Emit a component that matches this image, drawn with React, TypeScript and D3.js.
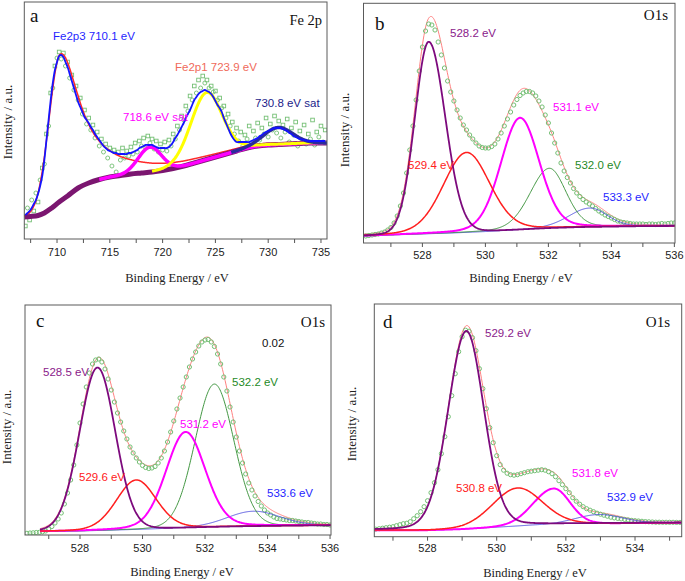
import React from 'react';
import * as d3 from 'd3';

const SANS = "'Liberation Sans', Arial, Helvetica, sans-serif";
const SERIF = "'Liberation Serif', 'Times New Roman', Times, serif";

// ================= DATA =================
// ---- Panel a: Fe 2p (grid 707.0 .. 735.4, step 0.2 eV) ----
const aStart = 707.0;
const aStep = 0.2;
const aMeasured = [
  12, 30, 18, 38, 27, 45, 36, 58, 70, 74,
  104, 112, 145, 150, 172, 180, 186, 179, 185, 172,
  176, 160, 163, 148, 152, 138, 140, 124, 128, 114,
  120, 108, 113, 100, 106, 92, 99, 86, 94, 80,
  90, 72, 88, 66, 86, 78, 90, 80, 87, 82,
  91, 84, 95, 86, 97, 92, 100, 90, 102, 95,
  99, 89, 97, 86, 94, 88, 96, 87, 98, 92,
  104, 99, 112, 108, 122, 118, 132, 127, 142, 138,
  152, 145, 158, 150, 162, 155, 158, 150, 152, 146,
  147, 138, 140, 130, 132, 120, 124, 112, 116, 104,
  110, 97, 106, 92, 103, 99, 112, 95, 107, 100,
  115, 98, 110, 104, 120, 101, 114, 108, 122, 105,
  117, 100, 113, 106, 119, 96, 110, 103, 116, 92,
  107, 98, 113, 94, 104, 99, 118, 93, 106, 101,
  112, 96, 108,
];
const aFitEnvelope = [
  23, 25, 27, 30, 34, 38, 44, 52, 62, 78,
  98, 118, 138, 155, 168, 176, 182, 183, 181, 176,
  171, 164, 157, 150, 143, 136, 131, 126, 121, 118,
  115, 111, 108, 104, 101, 98, 95, 92, 90, 88,
  87, 86, 85, 85, 84, 84, 84, 84, 84, 85,
  85, 86, 87, 88, 90, 91, 92, 93, 93, 93,
  93, 92, 91, 90, 90, 90, 90, 90, 91, 93,
  96, 100, 103, 107, 111, 115, 120, 124, 128, 133,
  138, 141, 144, 146, 147, 148, 147, 146, 144, 141,
  137, 133, 130, 126, 120, 115, 110, 105, 101, 98,
  96, 96, 96, 96, 96, 96, 96, 97, 98, 99,
  100, 102, 103, 105, 106, 107, 108, 109, 110, 110,
  110, 110, 109, 108, 107, 105, 104, 102, 101, 100,
  99, 98.5, 98, 97.5, 97, 97, 97, 97, 97, 97,
  97, 97, 97,
];
const aBackground: [number, number][] = [
  [706.9, 21], [707.5, 21.5], [708.2, 22.5], [708.8, 25], [709.5, 30], [710.2, 36],
  [711, 42], [712, 50], [713, 55], [714, 58.5], [715, 61], [716, 62.5], [717, 64],
  [718, 65], [719, 66], [720, 67.5], [721, 69.5], [722, 72], [723, 75], [724, 78],
  [725, 81], [726, 84], [727, 87], [728, 90], [729, 92], [730, 93], [731, 93.5],
  [732, 94], [733, 94.5], [734, 95], [735.6, 95],
];
const aPeakCenters = [710.3, 718.8, 724.15, 730.95];
const aPeakHeights = [147, 25, 67, 17];
const aPeakHwhmLeft = [1.27, 1.3, 1.75, 1.6];
const aPeakHwhmRight = [2.2, 1.3, 1.75, 1.6];
const aPeakLorentzLeft = [0, 0, 0.1, 0];
const aPeakLorentzRight = [1, 0, 0.1, 0];
const aPeakStarts = [706.9, 714, 719, 726.5];
const aLabels = ['Fe2p3 710.1 eV', '718.6 eV sat', 'Fe2p1 723.9 eV', '730.8 eV sat'];
const aTicks = [707.5, 710, 712.5, 715, 717.5, 720, 722.5, 725, 727.5, 730, 732.5, 735];
const aTickLabels = [710, 715, 720, 725, 730, 735];

// ---- Panel b: O1s ----
const bStart = 526.2;
const bMeasured = [
  7, 7.5, 8, 8.5, 9, 10, 11, 13, 15.5, 20,
  27, 37, 50, 70, 93, 117, 143, 172, 196, 212,
  219, 218, 213, 201, 188, 175, 162, 151, 142, 133,
  125, 118, 113, 108, 104, 100, 97, 95.5, 95, 95,
  96.5, 99, 104, 110, 117, 124, 131, 138, 143.5, 147.5,
  150, 151.5, 151.5, 150, 147, 142, 136, 128, 120, 110,
  100, 90, 80, 72, 65.5, 60, 54.5, 50, 46.5, 43.5,
  41, 39, 37, 34.5, 32, 30, 28, 26.5, 25, 23.5,
  22, 21, 20.5, 20, 19.5, 19, 19, 19, 19, 18.5,
  19, 19, 18.5, 19, 19.5, 19, 19.5, 20, 20,
];
const bBackground: [number, number][] = [
  [526.13, 7], [527, 8], [528, 9], [529, 10], [530, 11.3], [531, 13], [532, 14.7],
  [533, 15.8], [534, 16.3], [535, 16.8], [536.02, 17],
];
const bCenters = [528.2, 529.4, 531.1, 532.03, 533.32];
const bHeights = [192, 80, 112, 60, 19];
const bHwhmL = [0.52, 0.87, 0.72, 0.72, 0.8];
const bHwhmR = [0.62, 0.87, 0.72, 0.62, 0.65];
const bLorentz = [0.05, 0.15, 0.15, 0.15, 0.15];
const bLabels = ['528.2 eV', '529.4 eV', '531.1 eV', '532.0 eV', '533.3 eV'];

// ---- Panel c: O1s ----
const cStart = 526.3;
const cMeasured = [
  1.7, 2, 2.2, 2.5, 2.7, 3.2, 4, 6, 8.5, 12,
  16, 22, 31, 42, 55, 70, 90, 112, 131, 148,
  162, 171, 175, 176, 173, 166, 156, 145, 133, 122,
  113, 104, 96, 88, 82, 77, 73, 69.5, 67.5, 66.5,
  67, 68.5, 72, 77, 84, 93, 103, 114, 126, 137,
  148, 158, 168, 176, 183, 189, 193, 195, 195.5, 193,
  188.5, 181, 171, 158, 144, 128, 113, 98, 84, 72,
  61, 52, 45, 39, 33.5, 29, 25, 22, 20, 18,
  16.5, 16, 15.5, 15, 14.5, 14.5, 14, 13.5, 13, 12.5,
  12.5, 12, 11.5, 11, 11, 10.5, 10.5, 10,
];
const cBackground: [number, number][] = [
  [526.72, 3.5], [528, 4], [529, 4.8], [530, 5.7], [531, 6.7], [532, 7.7],
  [533, 8.5], [534, 9], [535, 9.4], [536.03, 9.7],
];
const cCenters = [528.56, 529.8, 531.38, 532.3, 533.55];
const cHeights = [163, 49.5, 96, 143, 15];
const cHwhmL = [0.68, 0.75, 0.74, 0.73, 1.0];
const cHwhmR = [0.67, 0.75, 0.74, 0.73, 1.0];
const cLorentz = [0.05, 0.15, 0.15, 0.05, 0.1];
const cLabels = ['528.5 eV', '529.6 eV', '531.2 eV', '532.2 eV', '533.6 eV'];
const cNote = '0.02';

// ---- Panel d: O1s ----
const dStart = 526.5;
const dMeasured = [
  7.5, 8, 8.5, 9, 9.5, 10, 11, 12, 13, 13.5,
  15, 18, 21, 25, 30, 36, 44, 54, 67, 83,
  100, 120, 141, 163, 185, 200, 206.5, 205.5, 199, 186,
  168, 148, 128, 109, 94, 81, 72, 66.5, 63.5, 62,
  61.5, 62, 63, 64, 65, 65.5, 66, 66.5, 67, 66.5,
  65, 63, 60, 56, 52, 48, 44, 39, 35.5, 32.5,
  30, 28, 26.5, 25, 23.5, 22.5, 21.5, 20.5, 19.5, 18.8,
  18.3, 17.8, 17.3, 16.8, 16.3, 16, 15.7, 15.4, 15.1, 14.9,
  14.7, 14.5, 14.5, 14.4, 14.4, 14.4, 14.4, 14.3, 14.3,
];
const dBackground: [number, number][] = [
  [526.46, 6.5], [528, 6.5], [529, 7.5], [530, 9.5], [531, 11.5], [532, 12.5],
  [533, 13.2], [534, 13.6], [535.35, 14],
];
const dCenters = [529.12, 530.6, 531.65, 532.95];
const dHeights = [198, 38, 36, 9];
const dHwhmL = [0.62, 0.85, 0.7, 0.8];
const dHwhmR = [0.6, 0.85, 0.55, 0.8];
const dLorentz = [0.12, 0.1, 0.05, 0.05];
const dLabels = ['529.2 eV', '530.8 eV', '531.8 eV', '532.9 eV'];

const o1sTicks = [527, 528, 529, 530, 531, 532, 533, 534, 535, 536];
const o1sTickLabels = [528, 530, 532, 534, 536];

// ================= STYLES / LAYOUT =================
// style slots: 0 purple, 1 red, 2 magenta, 3 green, 4 blue
const O1S_COLORS = ['#7d0a7d', '#ff1f1f', '#ff00ff', '#2e8b2e', '#4b4bdc'];
const O1S_WIDTHS = [1.8, 1.5, 2, 0.9, 0.9];
const O1S_LABEL_COLORS = ['#8a1a8a', '#ff2020', '#ff00ff', '#1f8a1f', '#1f1fff'];
const A_COLORS = ['#ff2a2a', '#ff00ff', '#ffff00', '#2b2b9c'];
const A_WIDTHS = [1.5, 3.5, 3, 3.5];
const A_LABEL_COLORS = ['#1f1fff', '#ff00ff', '#f06a5a', '#1c1c8a'];
const GREEN = '#74bf74';

type Frame = { l: number; r: number; t: number; b: number };

function pv(x: number, c: number, h: number, wl: number, wr: number, etaL: number, etaR: number) {
  const left = x < c;
  const w = left ? wl : wr;
  const eta = left ? etaL : etaR;
  const t = (x - c) / w;
  return h * ((1 - eta) * Math.exp(-Math.LN2 * t * t) + eta / (1 + t * t));
}

function bgScale(bg: [number, number][]) {
  return d3.scaleLinear().domain(bg.map(d => d[0])).range(bg.map(d => d[1])).clamp(true);
}

function Axis({ x, f, ticks, labels, labelY, titleX, titleY, ylabX, ylabY }: any) {
  return (
    <g>
      <rect x={f.l} y={f.t} width={f.r - f.l} height={f.b - f.t} fill="none" stroke="#5a5a5a" strokeWidth={1} />
      {ticks.map((t: number) => (
        <line key={'t' + t} x1={x(t)} x2={x(t)} y1={f.b} y2={f.b + 4} stroke="#555" strokeWidth={1} />
      ))}
      {labels.map((t: number) => (
        <text key={'l' + t} x={x(t)} y={labelY} textAnchor="middle" fontFamily={SANS} fontSize={11} fill="#222">{t}</text>
      ))}
      <text x={titleX} y={titleY} textAnchor="middle" fontFamily={SERIF} fontSize={12.5} fill="#222">Binding Energy / eV</text>
      <text transform={`translate(${ylabX},${ylabY}) rotate(-90)`} textAnchor="middle" fontFamily={SERIF} fontSize={13} fill="#222">Intensity / a.u.</text>
    </g>
  );
}

type O1sProps = {
  id: string; f: Frame; xDom: [number, number]; yBase: number;
  start: number; measured: number[]; bg: [number, number][];
  centers: number[]; heights: number[]; hl: number[]; hr: number[]; eta: number[];
  slots: number[];
  labels: string[]; labelPos: [number, number][];
  fitFrom: number; letter: string; letterPos: [number, number]; o1sPos: [number, number];
  labelY: number; titleX: number; titleY: number; ylabX: number; ylabY: number;
  tickLabels: number[]; ticks: number[];
};

function O1sPanel(p: O1sProps) {
  const x = d3.scaleLinear().domain(p.xDom).range([p.f.l, p.f.r]);
  const y = d3.scaleLinear().domain([0, 100]).range([p.yBase, p.yBase - 100]);
  const bgs = bgScale(p.bg);
  const grid = d3.range(Math.max(p.fitFrom, p.xDom[0]), p.xDom[1] + 0.001, 0.02);
  const one = (i: number, e: number) => pv(e, p.centers[i], p.heights[i], p.hl[i], p.hr[i], p.eta[i], p.eta[i]);
  const comp = (i: number) => (e: number) => bgs(e) + one(i, e);
  const env = (e: number) => bgs(e) + p.centers.reduce((s, _, i) => s + one(i, e), 0);
  const path = (fn: (e: number) => number) =>
    d3.line<number>().x(e => x(e)).y(e => y(fn(e)))(grid) || '';
  const pts = p.measured.map((v, i) => [p.start + i * 0.1, v] as [number, number]);
  const ticks = p.ticks.filter(t => t >= p.xDom[0] && t <= p.xDom[1]);
  const tl = p.tickLabels.filter(t => t >= p.xDom[0] && t <= p.xDom[1]);
  return (
    <g>
      <defs>
        <clipPath id={'clip' + p.id}>
          <rect x={p.f.l} y={p.f.t} width={p.f.r - p.f.l} height={p.f.b - p.f.t} />
        </clipPath>
      </defs>
      <g clipPath={`url(#clip${p.id})`}>
        <path d={path(env)} fill="none" stroke="#ff8080" strokeWidth={1} />
        {pts.map((d, i) => (
          <circle key={i} cx={x(d[0])} cy={y(d[1])} r={2.1} fill="none" stroke={GREEN} strokeWidth={1} />
        ))}
        {p.centers.map((_, i) => i).reverse().map(i => (
          <path key={'c' + i} d={path(comp(i))} fill="none" stroke={O1S_COLORS[p.slots[i]]} strokeWidth={O1S_WIDTHS[p.slots[i]]} />
        ))}
      </g>
      <Axis x={x} f={p.f} ticks={ticks} labels={tl} labelY={p.labelY} titleX={p.titleX} titleY={p.titleY} ylabX={p.ylabX} ylabY={p.ylabY} />
      {p.labels.map((s, i) => (
        <text key={s} x={p.labelPos[i][0]} y={p.labelPos[i][1]} fontFamily={SANS} fontSize={11.5} fill={O1S_LABEL_COLORS[p.slots[i]]}>{s}</text>
      ))}
      <text x={p.letterPos[0]} y={p.letterPos[1]} fontFamily={SERIF} fontSize={19} fill="#111">{p.letter}</text>
      <text x={p.o1sPos[0]} y={p.o1sPos[1]} textAnchor="end" fontFamily={SERIF} fontSize={15} fill="#111">O1s</text>
    </g>
  );
}

function FePanel() {
  const f: Frame = { l: 24.3, r: 327, t: 2, b: 239 };
  const x = d3.scaleLinear().domain([706.9, 735.57]).range([f.l, f.r]);
  const y = d3.scaleLinear().domain([0, 100]).range([238, 138]);
  const bgs = bgScale(aBackground);
  const comp = (i: number) => (e: number) =>
    bgs(e) + pv(e, aPeakCenters[i], aPeakHeights[i], aPeakHwhmLeft[i], aPeakHwhmRight[i], aPeakLorentzLeft[i], aPeakLorentzRight[i]);
  const path = (fn: (e: number) => number, from: number) =>
    d3.line<number>().x(e => x(e)).y(e => y(fn(e))).curve(d3.curveMonotoneX)(d3.range(from, 735.6, 0.05)) || '';
  const bgPath = d3.line<[number, number]>().x(d => x(d[0])).y(d => y(d[1])).curve(d3.curveMonotoneX)(aBackground) || '';
  const fitPts = aFitEnvelope.map((v, i) => [aStart + i * aStep, v] as [number, number]);
  const fitPath = d3.line<[number, number]>().x(d => x(d[0])).y(d => y(d[1])).curve(d3.curveCatmullRom)(fitPts) || '';
  const meas = aMeasured.map((v, i) => [aStart + i * aStep, v] as [number, number]);
  const labelPos: [number, number][] = [[53, 40], [123, 121], [175, 71], [255, 107]];
  return (
    <g>
      <defs>
        <clipPath id="clipA">
          <rect x={f.l} y={f.t} width={f.r - f.l} height={f.b - f.t} />
        </clipPath>
      </defs>
      <g clipPath="url(#clipA)">
        {meas.map((d, i) =>
          i % 2 === 0 ? (
            <rect key={i} x={x(d[0]) - 1.8} y={y(d[1]) - 1.8} width={3.6} height={3.6} fill="none" stroke={GREEN} strokeWidth={0.9} />
          ) : (
            <circle key={i} cx={x(d[0])} cy={y(d[1])} r={2} fill="none" stroke={GREEN} strokeWidth={0.9} />
          )
        )}
        <path d={path(comp(0), aPeakStarts[0])} fill="none" stroke={A_COLORS[0]} strokeWidth={A_WIDTHS[0]} />
        <path d={bgPath} fill="none" stroke="#7b1670" strokeWidth={5} />
        {[1, 2, 3].map(i => (
          <path key={i} d={path(comp(i), aPeakStarts[i])} fill="none" stroke={A_COLORS[i]} strokeWidth={A_WIDTHS[i]} />
        ))}
        <path d={fitPath} fill="none" stroke="#1414ff" strokeWidth={1.8} />
      </g>
      <Axis x={x} f={f} ticks={aTicks} labels={aTickLabels} labelY={256} titleX={177} titleY={282} ylabX={12} ylabY={122} />
      {aLabels.map((s, i) => (
        <text key={s} x={labelPos[i][0]} y={labelPos[i][1]} fontFamily={SANS} fontSize={11.5} fill={A_LABEL_COLORS[i]}>{s}</text>
      ))}
      <text x={30} y={22} fontFamily={SERIF} fontSize={19} fill="#111">a</text>
      <text x={322} y={25} textAnchor="end" fontFamily={SERIF} fontSize={14.5} fill="#111">Fe 2p</text>
    </g>
  );
}

export default function App() {
  return (
    <svg width={685} height={581} viewBox="0 0 685 581" style={{ position: 'absolute', left: 0, top: 0, background: '#fff' }}>
      <rect x={0} y={0} width={685} height={581} fill="#fff" />
      <FePanel />
      <O1sPanel
        id="B" f={{ l: 363.5, r: 675, t: 3.3, b: 243 }} xDom={[526.13, 536.02]} yBase={243}
        start={bStart} measured={bMeasured} bg={bBackground}
        centers={bCenters} heights={bHeights} hl={bHwhmL} hr={bHwhmR} eta={bLorentz} slots={[0, 1, 2, 3, 4]}
        labels={bLabels} labelPos={[[450, 37], [408, 169], [553, 111], [575, 169], [603, 201]]}
        fitFrom={526.13} letter="b" letterPos={[375, 30]} o1sPos={[668, 20]}
        labelY={259} titleX={521} titleY={282} ylabX={349} ylabY={130}
        ticks={o1sTicks} tickLabels={o1sTickLabels}
      />
      <O1sPanel
        id="C" f={{ l: 25, r: 331, t: 305, b: 535 }} xDom={[526.24, 536.03]} yBase={535}
        start={cStart} measured={cMeasured} bg={cBackground}
        centers={cCenters} heights={cHeights} hl={cHwhmL} hr={cHwhmR} eta={cLorentz} slots={[0, 1, 2, 3, 4]}
        labels={cLabels} labelPos={[[43, 376], [79, 481], [180, 428], [232, 386], [267, 497]]}
        fitFrom={526.72} letter="c" letterPos={[36, 327]} o1sPos={[325, 327]}
        labelY={552} titleX={182} titleY={576} ylabX={11} ylabY={427}
        ticks={o1sTicks} tickLabels={o1sTickLabels}
      />
      <text x={262} y={347} fontFamily={SANS} fontSize={11.5} fill="#111">{cNote}</text>
      <O1sPanel
        id="D" f={{ l: 374.3, r: 681.7, t: 304, b: 536.7 }} xDom={[526.46, 535.35]} yBase={536.7}
        start={dStart} measured={dMeasured} bg={dBackground}
        centers={dCenters} heights={dHeights} hl={dHwhmL} hr={dHwhmR} eta={dLorentz} slots={[0, 1, 2, 4]}
        labels={dLabels} labelPos={[[485, 337], [456, 492], [572, 477], [607, 501]]}
        fitFrom={526.46} letter="d" letterPos={[383, 328]} o1sPos={[670, 327]}
        labelY={552} titleX={535} titleY={577} ylabX={356} ylabY={424}
        ticks={o1sTicks} tickLabels={o1sTickLabels}
      />
    </svg>
  );
}
